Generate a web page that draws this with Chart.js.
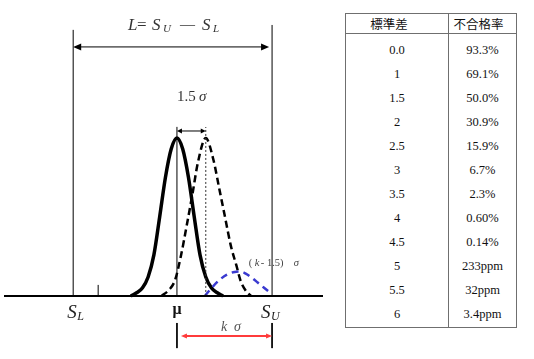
<!DOCTYPE html>
<html>
<head>
<meta charset="utf-8">
<script src="https://cdn.jsdelivr.net/npm/chart.js@4.4.0/dist/chart.umd.min.js"></script>
<style>
  html, body { margin: 0; padding: 0; background: #fff; }
  body { width: 534px; height: 359px; position: relative; overflow: hidden; }
  #chartBox { position: absolute; left: 0; top: 0; width: 340px; height: 359px; }
  #rateTable {
    position: absolute; left: 345px; top: 13px; width: 172px;
    border-collapse: collapse; border: 1px solid #6f6f6f;
    font-family: "Liberation Serif", "Noto Sans CJK JP", serif;
    font-size: 12.5px; color: #111;
  }
  #rateTable th { height: 19px; padding: 0; font-weight: normal; font-size: 12.5px; border-bottom: 1px solid #6f6f6f; }
  #rateTable td { height: 24px; padding: 0; text-align: center; }
  #rateTable tr.first td { height: 29px; padding-top: 5px; box-sizing: border-box; }
  #rateTable .c1 { width: 86px; border-right: 1px solid #6f6f6f; }
</style>
</head>
<body>
<div id="chartBox"><canvas id="bellChart"></canvas></div>
<table id="rateTable"></table>
<script>
document.addEventListener("DOMContentLoaded", () => {
  // x in units of sigma (mean = 0), y relative to curve peak
  const solidX = [-2.4, -2.1, -1.8, -1.5, -1.2, -0.9, -0.6, -0.3, 0, 0.3, 0.6, 0.9, 1.2, 1.5, 1.8, 2.1, 2.4];
  const solidY = [0, 0.02, 0.05, 0.12, 0.26, 0.5, 0.75, 0.93, 1, 0.93, 0.75, 0.5, 0.26, 0.12, 0.05, 0.02, 0];
  const shiftedX = [-0.8, -0.4, -0.1, 0.2, 0.5, 0.8, 1.1, 1.5, 1.9, 2.2, 2.5, 2.8, 3.1, 3.3, 3.6, 3.85];
  const shiftedY = [0, 0.04, 0.1, 0.25, 0.44, 0.64, 0.85, 1, 0.86, 0.68, 0.5, 0.32, 0.19, 0.1, 0.03, 0];
  const tailX = [1.45, 1.8, 2.2, 2.6, 3.0, 3.3, 3.6, 3.9, 4.2, 4.5, 4.85];
  const tailY = [0, 0.05, 0.1, 0.135, 0.152, 0.155, 0.14, 0.115, 0.085, 0.055, 0.02];

  const specLower = -5.4;
  const specUpper = 4.95;
  const meanX = 0;
  const shiftX = 1.5;
  const smallTickX = -4.1;

  const sigmaLevels = ["0.0", "1", "1.5", "2", "2.5", "3", "3.5", "4", "4.5", "5", "5.5", "6"];
  const defectRates = ["93.3%", "69.1%", "50.0%", "30.9%", "15.9%", "6.7%", "2.3%", "0.60%", "0.14%", "233ppm", "32ppm", "3.4ppm"];
  const tableHeaders = ["標準差", "不合格率"];

  // table
  const table = document.getElementById("rateTable");
  let html = `<tr><th class="c1" style="padding-right:16px">${tableHeaders[0]}</th><th style="padding-right:8px">${tableHeaders[1]}</th></tr>`;
  sigmaLevels.forEach((s, i) => {
    html += `<tr${i === 0 ? ' class="first"' : ""}><td class="c1">${s}</td><td>${defectRates[i]}</td></tr>`;
  });
  table.innerHTML = html;

  const pts = (xs, ys) => xs.map((x, i) => ({ x: x, y: ys[i] }));
  const vline = (x, y0, y1) => [{ x: x, y: y0 }, { x: x, y: y1 }];

  const lineDefaults = { showLine: true, pointRadius: 0, clip: false, fill: false };

  function doubleArrow(ctx, x1, x2, yy, len, half, color, lw) {
    ctx.save();
    ctx.strokeStyle = color;
    ctx.fillStyle = color;
    ctx.lineWidth = lw;
    ctx.beginPath();
    ctx.moveTo(x1 + len * 0.5, yy);
    ctx.lineTo(x2 - len * 0.5, yy);
    ctx.stroke();
    ctx.beginPath();
    ctx.moveTo(x1, yy);
    ctx.lineTo(x1 + len, yy - half);
    ctx.lineTo(x1 + len, yy + half);
    ctx.closePath();
    ctx.fill();
    ctx.beginPath();
    ctx.moveTo(x2, yy);
    ctx.lineTo(x2 - len, yy - half);
    ctx.lineTo(x2 - len, yy + half);
    ctx.closePath();
    ctx.fill();
    ctx.restore();
  }

  function text(ctx, str, x, y, font, color, align) {
    ctx.font = font;
    ctx.fillStyle = color || "#222";
    ctx.textAlign = align || "left";
    ctx.textBaseline = "alphabetic";
    ctx.fillText(str, x, y);
  }

  const serif = '"Liberation Serif", "DejaVu Serif", serif';

  const annotations = {
    id: "annotations",
    afterDatasetsDraw(chart) {
      const { ctx } = chart;
      const xs = chart.scales.x;
      const ys = chart.scales.y;
      const px = (v) => xs.getPixelForValue(v);
      const py = (v) => ys.getPixelForValue(v);

      const xL = px(specLower), xU = px(specUpper), xM = px(meanX), xS = px(shiftX);
      const yBase = py(0);

      // arrows
      doubleArrow(ctx, xL, xU - 3, py(1.576), 8, 3.5, "#000", 1);
      doubleArrow(ctx, xM, xS, py(1.044), 5, 2.5, "#000", 1);
      doubleArrow(ctx, xM + 4, xU, py(-0.253), 6, 2.5, "#ff3b3b", 2);

      ctx.save();
      // L = S_U - S_L
      const top = py(1.576) - 17;
      text(ctx, "L", 128, top, "italic 17px " + serif, "#333");
      text(ctx, "=", 137, top, "17px " + serif, "#333");
      text(ctx, "S", 152, top, "italic 17px " + serif, "#333");
      text(ctx, "U", 163, top + 2, "italic 11px " + serif, "#333");
      text(ctx, "\u2014", 180, top - 1, "15px " + serif, "#333");
      text(ctx, "S", 202, top, "italic 17px " + serif, "#333");
      text(ctx, "L", 213, top + 2, "italic 11px " + serif, "#333");

      // 1.5 sigma
      text(ctx, "1.5", xM, py(1.044) - 30, "15px " + serif, "#333");
      text(ctx, "\u03c3", xM + 22, py(1.044) - 30, "italic 15px " + serif, "#333");

      // (k-1.5) sigma
      const kx = px(3.74), ky = yBase - 30;
      text(ctx, "(", kx, ky, "10.5px " + serif, "#444");
      text(ctx, "k", kx + 6, ky, "italic 10.5px " + serif, "#444");
      text(ctx, "- 1.5)", kx + 12, ky, "10.5px " + serif, "#444");
      text(ctx, "\u03c3", kx + 45, ky, "italic 10.5px " + serif, "#444");

      // axis labels
      const yLab = yBase + 22;
      text(ctx, "S", xL - 6, yLab, "italic 19px " + serif, "#222");
      text(ctx, "L", xL + 4, yLab + 2, "italic 12px " + serif, "#222");
      text(ctx, "\u03bc", xM, yLab - 4, "bold 16px " + serif, "#111", "center");
      text(ctx, "S", xU - 11, yLab, "italic 19px " + serif, "#222");
      text(ctx, "U", xU - 1, yLab + 2, "italic 12px " + serif, "#222");

      // k sigma
      text(ctx, "k", xU - 51, yBase + 35, "italic 14px " + serif, "#555");
      text(ctx, "\u03c3", xU - 38, yBase + 35, "italic 14px " + serif, "#555");
      ctx.restore();
    },
  };

  new Chart(document.getElementById("bellChart"), {
    type: "scatter",
    data: {
      datasets: [
        { ...lineDefaults, data: [{ x: -9, y: 0 }, { x: 7.6, y: 0 }], borderColor: "#000", borderWidth: 2 },
        { ...lineDefaults, data: vline(specLower, 0, 1.684), borderColor: "#000", borderWidth: 1 },
        { ...lineDefaults, data: vline(specUpper, 0, 1.715), borderColor: "#000", borderWidth: 1 },
        { ...lineDefaults, data: vline(specUpper, -0.171, -0.33), borderColor: "#000", borderWidth: 1 },
        { ...lineDefaults, data: vline(meanX, 0, 1.07), borderColor: "#000", borderWidth: 1 },
        { ...lineDefaults, data: vline(meanX, -0.171, -0.33), borderColor: "#000", borderWidth: 1 },
        { ...lineDefaults, data: vline(smallTickX, 0, 0.07), borderColor: "#000", borderWidth: 1 },
        { ...lineDefaults, data: vline(shiftX, 0, 1.07), borderColor: "#333", borderWidth: 1, borderDash: [2, 2] },
        { ...lineDefaults, data: pts(tailX, tailY), borderColor: "#3a3ad0", borderWidth: 2.5, borderDash: [7, 5], cubicInterpolationMode: "monotone" },
        { ...lineDefaults, data: pts(shiftedX, shiftedY), borderColor: "#000", borderWidth: 2.5, borderDash: [7, 4], cubicInterpolationMode: "monotone" },
        { ...lineDefaults, data: pts(solidX, solidY), borderColor: "#000", borderWidth: 3.5, cubicInterpolationMode: "monotone" },
      ],
    },
    options: {
      responsive: true,
      maintainAspectRatio: false,
      animation: false,
      layout: { padding: { left: 4, right: 17, top: 0, bottom: 0 } },
      plugins: { legend: { display: false }, tooltip: { enabled: false } },
      scales: {
        x: { type: "linear", display: false, min: -9, max: 7.6 },
        y: { display: false, min: -0.399, max: 1.873 },
      },
    },
    plugins: [annotations],
  });
});
</script>
</body>
</html>
